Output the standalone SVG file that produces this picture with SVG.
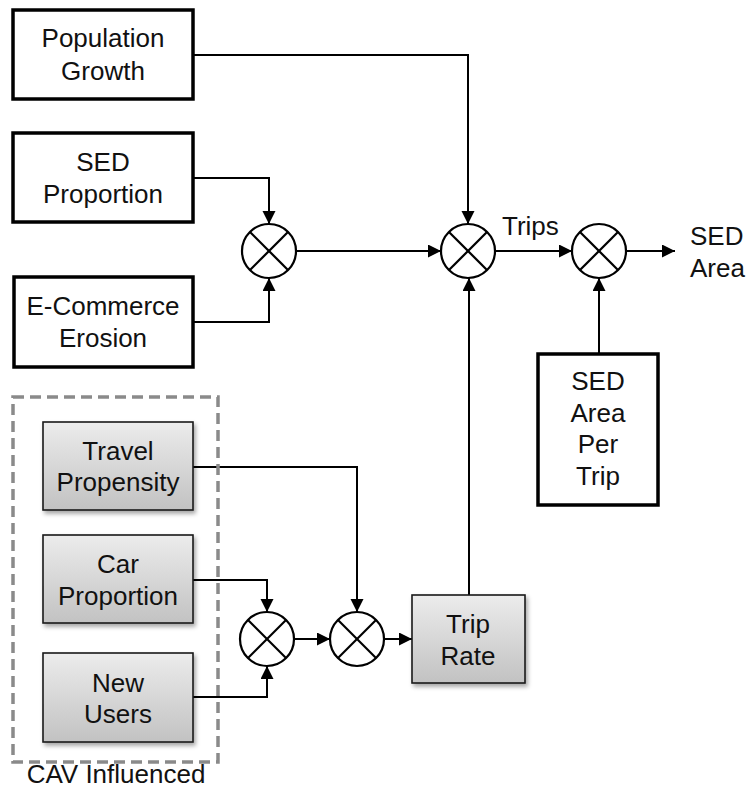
<svg xmlns="http://www.w3.org/2000/svg" width="750" height="795" viewBox="0 0 750 795">
  <style>
    .box { fill: #ffffff; stroke: #000000; stroke-width: 3.5; }
    .gbox { fill: url(#grayFill); stroke: #1a1a1a; stroke-width: 1.6; filter: url(#shadow); }
    .lbl { font-family: "Liberation Sans", Arial, sans-serif; font-size: 26px; fill: #111111; text-anchor: middle; }
    .lbl-l { font-family: "Liberation Sans", Arial, sans-serif; font-size: 26px; fill: #111111; }
    .arrow { fill: none; stroke: #000000; stroke-width: 2; marker-end: url(#head); }
    .group-frame { fill: none; stroke: #8a8a8a; stroke-width: 3.5; stroke-dasharray: 11 6; }
  </style>
  <defs>
    <linearGradient id="grayFill" x1="0" y1="0" x2="0" y2="1">
      <stop offset="0" stop-color="#ececec"/>
      <stop offset="1" stop-color="#c2c2c2"/>
    </linearGradient>
    <filter id="shadow" x="-10%" y="-10%" width="130%" height="130%">
      <feDropShadow dx="2" dy="3" stdDeviation="2" flood-color="#000000" flood-opacity="0.35"/>
    </filter>
    <marker id="head" markerUnits="userSpaceOnUse" markerWidth="14" markerHeight="14" refX="13" refY="6.5" orient="auto">
      <path d="M0,0 L13,6.5 L0,13 z" fill="#000000"/>
    </marker>
    <!-- multiplier symbol: circle with a cross -->
    <g id="mx" fill="#ffffff" stroke="#000000" stroke-width="2.2">
      <circle cx="0" cy="0" r="27"/>
      <line x1="-19" y1="-19" x2="19" y2="19"/>
      <line x1="-19" y1="19" x2="19" y2="-19"/>
    </g>
  </defs>

  <!-- connectors -->
  <g id="connectors">
    <path class="arrow" d="M193,55 H468 V224"/>
    <path class="arrow" d="M193,178 H269 V224"/>
    <path class="arrow" d="M193,322 H269 V278"/>
    <path class="arrow" d="M296,251 H441"/>
    <path class="arrow" d="M495,251 H572"/>
    <path class="arrow" d="M626,251 H675"/>
    <path class="arrow" d="M599,354 V278"/>
    <path class="arrow" d="M469,595 V278"/>
    <path class="arrow" d="M193,467 H357 V612"/>
    <path class="arrow" d="M193,580 H267 V612"/>
    <path class="arrow" d="M193,697 H267 V666"/>
    <path class="arrow" d="M294,639 H330"/>
    <path class="arrow" d="M384,639 H412"/>
  </g>

  <!-- CAV influenced group frame -->
  <g id="cav-group">
    <rect class="group-frame" x="13" y="397" width="205" height="365"/>
    <text class="lbl" x="116" y="783">CAV Influenced</text>
  </g>

  <!-- input boxes -->
  <g id="population-growth">
    <rect class="box" x="13" y="10" width="180" height="89"/>
    <text class="lbl" x="103" y="47">Population</text>
    <text class="lbl" x="103" y="80">Growth</text>
  </g>
  <g id="sed-proportion">
    <rect class="box" x="13" y="133" width="180" height="89"/>
    <text class="lbl" x="103" y="171">SED</text>
    <text class="lbl" x="103" y="203">Proportion</text>
  </g>
  <g id="ecommerce-erosion">
    <rect class="box" x="14" y="277" width="179" height="90"/>
    <text class="lbl" x="103" y="315">E-Commerce</text>
    <text class="lbl" x="103" y="347">Erosion</text>
  </g>
  <g id="sed-area-per-trip">
    <rect class="box" x="538" y="354" width="120" height="151"/>
    <text class="lbl" x="598" y="390">SED</text>
    <text class="lbl" x="598" y="422">Area</text>
    <text class="lbl" x="598" y="453">Per</text>
    <text class="lbl" x="598" y="485">Trip</text>
  </g>

  <!-- CAV influenced inputs -->
  <g id="travel-propensity">
    <rect class="gbox" x="43" y="422" width="150" height="88"/>
    <text class="lbl" x="118" y="460">Travel</text>
    <text class="lbl" x="118" y="491">Propensity</text>
  </g>
  <g id="car-proportion">
    <rect class="gbox" x="43" y="535" width="150" height="88"/>
    <text class="lbl" x="118" y="573">Car</text>
    <text class="lbl" x="118" y="605">Proportion</text>
  </g>
  <g id="new-users">
    <rect class="gbox" x="43" y="653" width="150" height="89"/>
    <text class="lbl" x="118" y="692">New</text>
    <text class="lbl" x="118" y="723">Users</text>
  </g>
  <g id="trip-rate">
    <rect class="gbox" x="412" y="595" width="113" height="88"/>
    <text class="lbl" x="468" y="633">Trip</text>
    <text class="lbl" x="468" y="665">Rate</text>
  </g>

  <!-- multipliers -->
  <g id="mult-sed"><use href="#mx" x="269" y="251"/></g>
  <g id="mult-trips"><use href="#mx" x="468" y="251"/></g>
  <g id="mult-area"><use href="#mx" x="599" y="251"/></g>
  <g id="mult-users"><use href="#mx" x="267" y="639"/></g>
  <g id="mult-rate"><use href="#mx" x="357" y="639"/></g>

  <!-- flow labels -->
  <g id="labels">
    <text class="lbl-l" x="502" y="235">Trips</text>
    <text class="lbl-l" x="690" y="245">SED</text>
    <text class="lbl-l" x="690" y="277">Area</text>
  </g>
</svg>
